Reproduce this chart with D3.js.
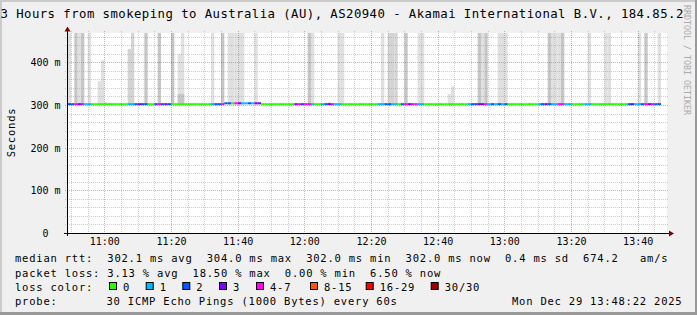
<!DOCTYPE html>
<html>
<head>
<meta charset="utf-8">
<script src="https://cdn.jsdelivr.net/npm/d3@7"></script>
<style>
html, body { margin: 0; padding: 0; background: #f0f0f0; }
#outer { width: 697px; height: 315px; overflow: hidden; }
svg text { font-family: "DejaVu Sans Mono", monospace; white-space: pre; }
</style>
</head>
<body>
<div id="outer"></div>
<script>

////////// Hard Coded Defs //////////

// time window (3 hours, one bin per 60s ping round)
const windowStart = new Date(2025, 11, 29, 10, 48, 48);
const windowEnd = new Date(2025, 11, 29, 13, 48, 48);
const firstBin = new Date(2025, 11, 29, 10, 49, 0);

// median rtt (ms) as [value, number of bins]
const medianRuns = [[302, 47], [304, 11], [302, 120]];

// lost pings (of 30) as [count, number of bins]
const lossRuns = [
	[2, 2], [4, 1], [3, 1], [4, 1], [1, 2], [0, 11], [1, 2], [2, 1], [3, 1], [2, 2],
	[0, 2], [2, 1], [4, 1], [2, 1], [3, 1], [2, 1], [0, 12], [1, 1], [2, 2], [4, 1],
	[2, 2], [0, 1], [4, 1], [3, 1], [1, 2], [2, 1], [1, 1], [3, 2], [0, 10], [3, 1],
	[4, 1], [2, 1], [4, 2], [1, 1], [0, 2], [1, 1], [2, 1], [3, 1], [4, 1], [1, 2],
	[0, 11], [1, 2], [2, 2], [1, 2], [0, 1], [2, 1], [4, 1], [3, 1], [4, 2], [1, 2],
	[0, 13], [1, 1], [2, 2], [3, 2], [4, 1], [1, 1], [2, 1], [1, 1], [2, 1], [1, 1],
	[2, 1], [0, 9], [1, 1], [2, 1], [3, 1], [2, 1], [1, 2], [4, 2], [1, 2], [0, 4],
	[1, 2], [0, 11], [2, 1], [3, 1], [1, 2], [2, 1], [4, 1], [3, 1], [4, 1], [2, 2]
];

// smoke: [bin, highest ping ms, shade 1 light .. 3 dark]
const smokeBars = [
	[0, 520, 1], [2, 520, 3], [3, 520, 1], [4, 520, 3], [6, 520, 1], [9, 356, 1], [10, 405, 1],
	[11, 306, 2], [12, 305, 1], [18, 431, 2], [19, 520, 2], [23, 520, 3], [27, 520, 3],
	[31, 520, 3], [33, 419, 1], [34, 520, 1], [33, 326, 3], [34, 326, 3], [43, 520, 1],
	[46, 520, 3], [48, 520, 1], [49, 520, 1], [50, 520, 1], [51, 520, 1], [52, 520, 1],
	[56, 520, 1], [72, 520, 3], [73, 520, 1], [78, 306, 2], [81, 520, 1], [82, 520, 1],
	[94, 520, 1], [96, 520, 2], [97, 520, 2], [98, 520, 2], [101, 520, 3], [105, 520, 1],
	[106, 520, 1], [108, 305, 1], [114, 326, 1], [115, 344, 1], [122, 305, 1], [123, 520, 3],
	[124, 520, 1], [125, 520, 3], [129, 520, 1], [130, 520, 1], [131, 520, 1], [138, 305, 1],
	[144, 520, 3], [145, 520, 1], [146, 520, 1], [147, 520, 1], [148, 520, 3], [156, 520, 1],
	[161, 520, 1], [162, 520, 1], [171, 520, 1], [173, 520, 3], [177, 520, 1]
];

// loss legend
const lossLabels = ['0', '1', '2', '3', '4-7', '8-15', '16-29', '30/30'];
const lossUpper = [0, 1, 2, 3, 7, 15, 29, 30];
const lossColors = ['#26ff00', '#00b8ff', '#0059ff', '#7e00ff', '#ff00ff', '#ff5500', '#ff0000', '#a10000'];

// axis ticks
const yTicks = [0, 100, 200, 300, 400];

// texts
const titleText = '3 Hours from smokeping to Australia (AU), AS20940 - Akamai International B.V., 184.85.2';
const statLines = [
	'median rtt:  302.1 ms avg  304.0 ms max  302.0 ms min  302.0 ms now  0.4 ms sd  674.2   am/s',
	'packet loss: 3.13 % avg  18.50 % max  0.00 % min  6.50 % now'
];
const probeText = '30 ICMP Echo Pings (1000 Bytes) every 60s';
const dateText = 'Mon Dec 29 13:48:22 2025';


////////////////////////////////////////////////////////////////
	// SETUP
////////////////////////////////////////////////////////////////
const W = 697, H = 315;
const plot = {left: 67, right: 667, top: 33, bottom: 233};

const x = d3.scaleTime().domain([windowStart, windowEnd]).range([plot.left, plot.right]);
const y = d3.scaleLinear().domain([0, 468.75]).range([plot.bottom, plot.top]);

const binTime = k => d3.timeMinute.offset(firstBin, k);
const expand = runs => runs.flatMap(([v, n]) => d3.range(n).map(() => v));
const medians = expand(medianRuns);
const losses = expand(lossRuns);
const lossIndex = l => lossUpper.findIndex(u => l <= u);
const shades = {1: '#e0e0e0', 2: '#d4d4d4', 3: '#c6c6c6'};

const legendFont = {size: '10.5px', spacing: '0.78px'};


////////////////////////////////////////////////////////////////
	// Render
////////////////////////////////////////////////////////////////
const svg = d3.select('#outer').append('svg')
	.attr('width', W)
	.attr('height', H);

// BACKGROUND + FRAME //
svg.append('rect').attr('width', W).attr('height', H).attr('fill', '#f0f0f0');
svg.append('rect').attr('x', 0).attr('y', 0).attr('width', W).attr('height', 2).attr('fill', '#cbcbcb');
svg.append('rect').attr('x', 0).attr('y', 0).attr('width', 2).attr('height', H).attr('fill', '#cbcbcb');
svg.append('rect').attr('x', W - 2).attr('y', 0).attr('width', 2).attr('height', H).attr('fill', '#999');
svg.append('rect').attr('x', 0).attr('y', H - 3).attr('width', W).attr('height', 3).attr('fill', '#999');

svg.append('rect')
	.attr('x', plot.left).attr('y', plot.top)
	.attr('width', plot.right - plot.left).attr('height', plot.bottom - plot.top)
	.attr('fill', '#fff');

svg.append('clipPath').attr('id', 'plotClip')
	.append('rect')
	.attr('x', plot.left).attr('y', plot.top)
	.attr('width', plot.right - plot.left).attr('height', plot.bottom - plot.top);

const graph = svg.append('g').attr('clip-path', 'url(#plotClip)');

// SMOKE //
graph.selectAll('rect.smoke')
	.data(smokeBars)
	.join('rect')
	.attr('class', 'smoke')
	.attr('x', d => x(binTime(d[0])))
	.attr('width', d => x(binTime(d[0] + 1)) - x(binTime(d[0])))
	.attr('y', d => y(d[1]))
	.attr('height', d => y(300.5) - y(d[1]))
	.attr('fill', d => shades[d[2]]);

// GRID //
const gridG = svg.append('g');
const yMinor = d3.range(20, 468, 20).filter(v => v % 100 !== 0);
const yMajor = d3.range(100, 468, 100);
const xMinor = d3.timeMinute.every(5).range(windowStart, windowEnd).filter(t => t.getMinutes() % 20 !== 0);
const xMajor = d3.timeMinute.every(20).range(windowStart, windowEnd);
const minorColor = 'rgba(140,140,140,0.42)';
const majorColor = 'rgba(225,40,40,0.42)';
const crisp = v => Math.round(v) + 0.5;

gridG.selectAll('line.hmin').data(yMinor).join('line')
	.attr('x1', plot.left - 2).attr('x2', plot.right + 2)
	.attr('y1', d => crisp(y(d))).attr('y2', d => crisp(y(d)))
	.attr('stroke', minorColor).attr('stroke-dasharray', '1,1');
gridG.selectAll('line.vmin').data(xMinor).join('line')
	.attr('y1', plot.top - 2).attr('y2', plot.bottom + 2)
	.attr('x1', d => crisp(x(d))).attr('x2', d => crisp(x(d)))
	.attr('stroke', minorColor).attr('stroke-dasharray', '1,1');
gridG.selectAll('line.hmaj').data(yMajor).join('line')
	.attr('x1', plot.left - 2).attr('x2', plot.right + 2)
	.attr('y1', d => crisp(y(d))).attr('y2', d => crisp(y(d)))
	.attr('stroke', majorColor).attr('stroke-dasharray', '1,1');
gridG.selectAll('line.vmaj').data(xMajor).join('line')
	.attr('y1', plot.top - 2).attr('y2', plot.bottom + 2)
	.attr('x1', d => crisp(x(d))).attr('x2', d => crisp(x(d)))
	.attr('stroke', majorColor).attr('stroke-dasharray', '1,1');

// MEDIAN LINE coloured by loss //
graph.selectAll('rect.median')
	.data(medians.map((m, k) => ({k, m, loss: losses[k]})))
	.join('rect')
	.attr('class', 'median')
	.attr('x', d => x(binTime(d.k)))
	.attr('width', d => x(binTime(d.k + 1)) - x(binTime(d.k)))
	.attr('y', d => y(d.m) - 1)
	.attr('height', 2)
	.attr('fill', d => lossColors[lossIndex(d.loss)]);

// AXES //
const xAxis = svg.append('g')
	.attr('transform', `translate(0,${plot.bottom})`)
	.call(d3.axisBottom(x).tickValues(xMajor).tickFormat(d3.timeFormat('%H:%M')).tickSize(0).tickPadding(5));
xAxis.select('.domain').remove();
xAxis.selectAll('text').attr('font-size', '10px').attr('fill', '#000');

const yAxis = svg.append('g')
	.attr('transform', `translate(${plot.left},0)`)
	.call(d3.axisLeft(y).tickValues(yTicks).tickFormat(d => d ? d + ' m' : '0  ').tickSize(0).tickPadding(6.5));
yAxis.select('.domain').remove();
yAxis.selectAll('text').attr('font-size', '10px').attr('fill', '#000').attr('dy', '0.36em');

svg.append('line')
	.attr('x1', plot.left - 3).attr('x2', plot.right + 2)
	.attr('y1', plot.bottom + 0.5).attr('y2', plot.bottom + 0.5)
	.attr('stroke', '#000');
svg.append('line')
	.attr('x1', plot.left + 0.5).attr('x2', plot.left + 0.5)
	.attr('y1', plot.bottom + 3).attr('y2', plot.top - 2)
	.attr('stroke', '#000');

// arrows
svg.append('path')
	.attr('d', `M${plot.left + 0.5},${plot.top - 6.5}L${plot.left + 3.5},${plot.top - 1.5}L${plot.left - 2.5},${plot.top - 1.5}Z`)
	.attr('fill', '#7f0000');
svg.append('path')
	.attr('d', `M${plot.right + 7},${plot.bottom + 0.5}L${plot.right + 2},${plot.bottom - 2.5}L${plot.right + 2},${plot.bottom + 3.5}Z`)
	.attr('fill', '#7f0000');

// TITLE + LABELS //
svg.append('text')
	.attr('x', 0.5).attr('y', 18)
	.attr('font-size', '12.3px').attr('letter-spacing', '0.45px')
	.text(titleText);

svg.append('text')
	.attr('transform', 'translate(15,132.5) rotate(-90)')
	.attr('text-anchor', 'middle')
	.attr('font-size', legendFont.size).attr('letter-spacing', legendFont.spacing)
	.text('Seconds');

svg.append('text')
	.attr('transform', 'translate(684,5) rotate(90)')
	.attr('font-size', '8.3px').attr('fill', '#aaa')
	.text('RRDTOOL / TOBI OETIKER');

// LEGEND //
const legend = svg.append('g')
	.attr('font-size', legendFont.size).attr('letter-spacing', legendFont.spacing);

statLines.forEach((s, i) => {
	legend.append('text').attr('x', 15).attr('y', 262.3 + i * 14.2).text(s);
});
legend.append('text').attr('x', 15).attr('y', 290.7).text('loss color:');

const boxX = [109, 145.7, 182.3, 219, 256, 310, 365.7, 430.7];
lossLabels.forEach((lab, i) => {
	legend.append('rect')
		.attr('x', boxX[i] + 0.5).attr('y', 282.5)
		.attr('width', 7).attr('height', 7)
		.attr('fill', lossColors[i]).attr('stroke', '#000');
	legend.append('text').attr('x', boxX[i] + 14).attr('y', 290.7).text(lab);
});

legend.append('text').attr('x', 15).attr('y', 304.9).text('probe:');
legend.append('text').attr('x', 106.5).attr('y', 304.9).text(probeText);
legend.append('text').attr('x', 512).attr('y', 304.9).text(dateText);

</script>
</body>
</html>
